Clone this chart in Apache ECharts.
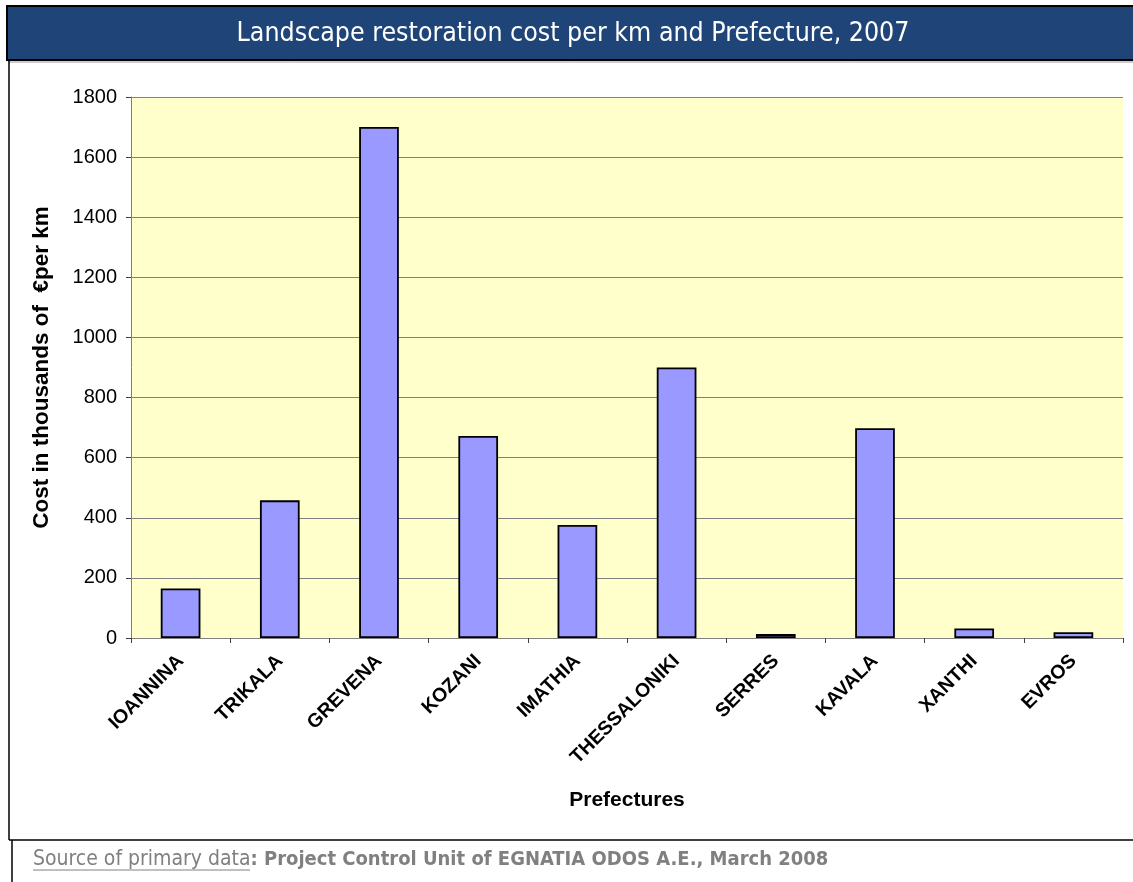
<!DOCTYPE html>
<html>
<head>
<meta charset="utf-8">
<script src="https://cdn.jsdelivr.net/npm/echarts@6/dist/echarts.min.js"></script>
<style>
html,body{margin:0;padding:0;background:#fff;}
#c{width:1133px;height:882px;}
</style>
</head>
<body>
<div id="c"></div>
<script>
var prefectures = ['IOANNINA','TRIKALA','GREVENA','KOZANI','IMATHIA','THESSALONIKI','SERRES','KAVALA','XANTHI','EVROS'];
var costPerKm = [165, 458, 1700, 672, 376, 900, 13, 698, 32, 19];
var yTicks = {min: 0, max: 1800, interval: 200};
var titleText = 'Landscape restoration cost per km and Prefecture, 2007';
var yAxisName = 'Cost in thousands of  \u20acper km';
var xAxisName = 'Prefectures';
var sourceLabel = 'Source of primary data';
var sourceText = ': Project Control Unit of EGNATIA ODOS A.E., March 2008';

var chart = echarts.init(document.getElementById('c'), null, {renderer: 'canvas'});
var option = {
  animation: false,
  backgroundColor: '#ffffff',
  grid: {
    left: 131, right: 10, top: 97, bottom: 244,
    show: true, backgroundColor: '#FFFFCC', borderWidth: 0
  },
  xAxis: {
    type: 'category',
    data: prefectures,
    boundaryGap: true,
    name: xAxisName,
    nameLocation: 'middle',
    nameGap: 152,
    nameTextStyle: {fontFamily: 'Liberation Sans, Arial', fontWeight: 'bold', fontSize: 21, color: '#000'},
    axisLine: {show: true, lineStyle: {color: '#808080', width: 1}},
    axisTick: {show: true, alignWithLabel: false, length: 5, lineStyle: {color: '#404040'}},
    axisLabel: {
      interval: 0, rotate: 45, margin: 20,
      fontFamily: 'Liberation Sans, Arial', fontWeight: 'bold', fontSize: 19.5, color: '#000'
    },
    splitLine: {show: false}
  },
  yAxis: {
    type: 'value',
    min: yTicks.min, max: yTicks.max, interval: yTicks.interval,
    name: yAxisName,
    nameLocation: 'middle',
    nameRotate: 90,
    nameGap: 78,
    nameTextStyle: {fontFamily: 'Liberation Sans, Arial', fontWeight: 'bold', fontSize: 22.5, color: '#000'},
    axisLine: {show: true, lineStyle: {color: '#808080', width: 1}},
    axisTick: {show: true, inside: false, length: 5, lineStyle: {color: '#404040'}},
    axisLabel: {margin: 14, fontFamily: 'Liberation Sans, Arial', fontSize: 20, color: '#000',
      formatter: function (v) { return String(v); }},
    splitLine: {show: true, lineStyle: {color: '#808080', width: 1}}
  },
  series: [{
    type: 'bar',
    data: costPerKm,
    barWidth: '40%',
    itemStyle: {color: '#9999FF', borderColor: '#000000', borderWidth: 1.8}
  }],
  graphic: [
    {type: 'rect', shape: {x: 7, y: 6, width: 1135, height: 54},
     style: {fill: '#1F4578', stroke: '#000', lineWidth: 2}, z: 0},
    {type: 'line', shape: {x1: 8, y1: 62, x2: 1133, y2: 62}, style: {stroke: '#999', lineWidth: 1}},
    {type: 'text', x: 573, y: 34,
     style: {text: titleText, fill: '#ffffff', font: '26.5px "DejaVu Sans Condensed", "DejaVu Sans"', textAlign: 'center', textVerticalAlign: 'middle'}, z: 2},
    {type: 'line', shape: {x1: 9, y1: 60, x2: 9, y2: 840}, style: {stroke: '#000', lineWidth: 1.5}},
    {type: 'line', shape: {x1: 9, y1: 840, x2: 1133, y2: 840}, style: {stroke: '#000', lineWidth: 1.5}},
    {type: 'line', shape: {x1: 12, y1: 840, x2: 12, y2: 882}, style: {stroke: '#000', lineWidth: 1.5}},
    {type: 'text', x: 33, y: 860,
     style: {
       text: '{a|' + sourceLabel + '}{b|' + sourceText + '}',
       textVerticalAlign: 'middle',
       fill: '#808080',
       rich: {
         a: {fontFamily: '"DejaVu Sans Condensed", "DejaVu Sans"', fontSize: 21, fill: '#808080', color: '#808080'},
         b: {fontFamily: '"DejaVu Sans Condensed", "DejaVu Sans"', fontSize: 20, fontWeight: 'bold', fill: '#808080', color: '#808080'}
       }
     }},
    {type: 'line', shape: {x1: 33, y1: 870, x2: 250, y2: 870}, style: {stroke: '#808080', lineWidth: 1}}
  ]
};
chart.setOption(option);
</script>
</body>
</html>
